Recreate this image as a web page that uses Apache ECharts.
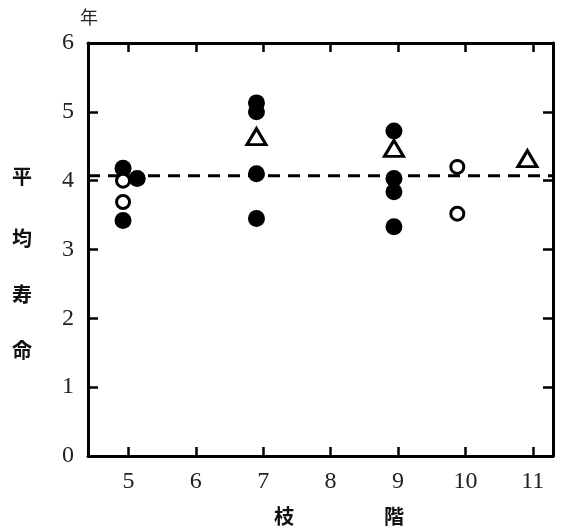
<!DOCTYPE html>
<html><head><meta charset="utf-8">
<script src="https://cdn.jsdelivr.net/npm/echarts@6/dist/echarts.min.js"></script>
<style>html,body{margin:0;padding:0;background:#fff}#c{width:564px;height:529px}</style>
</head><body><div id="c"></div>
<script>
const xTicks = [5, 6, 7, 8, 9, 10, 11];
const yTicks = [0, 1, 2, 3, 4, 5, 6];
const filledPoints = [[4.92,4.18],[5.13,4.03],[4.92,3.42],[6.9,5.13],[6.9,5.0],[6.9,4.10],[6.9,3.45],[8.94,4.72],[8.94,4.03],[8.94,3.84],[8.94,3.33]];
const openPoints = [[4.92,4.0],[4.92,3.69],[9.88,4.2],[9.88,3.52]];
const trianglePoints = [[6.9,4.64],[8.94,4.47],[10.92,4.32]];
const meanLine = [[4.4,4.07],[11.3,4.07]];
const yName = ['平','均','寿','命'];
const xName = ['枝','階'];

const chart = echarts.init(document.getElementById('c'));
const serif = '"Liberation Serif", "DejaVu Serif", serif';
const cjk = '"Noto Sans CJK JP", sans-serif';
const axisBase = {
  type: 'value', min: 4.4, max: 11.3,
  axisLine: {show: true, onZero: false, lineStyle: {color: '#000', width: 3}},
  splitLine: {show: false}
};
chart.setOption({
  animation: false,
  grid: {left: 88, right: 11, top: 43, bottom: 73},
  xAxis: [
    Object.assign({}, axisBase, {position: 'bottom',
      axisTick: {show: true, inside: true, length: 9, lineStyle: {color: '#000', width: 2.5}, customValues: xTicks},
      axisLabel: {show: true, customValues: xTicks, margin: 14, color: '#222', fontFamily: serif, fontSize: 24}}),
    Object.assign({}, axisBase, {position: 'top',
      axisTick: {show: true, inside: true, length: 9, lineStyle: {color: '#000', width: 2.5}, customValues: xTicks},
      axisLabel: {show: false}})
  ],
  yAxis: [
    {type: 'value', min: 0, max: 6, interval: 1, position: 'left',
      axisLine: {show: true, onZero: false, lineStyle: {color: '#000', width: 3}},
      axisTick: {show: true, inside: true, length: 10, lineStyle: {color: '#000', width: 2.5}},
      axisLabel: {margin: 14, color: '#222', fontFamily: serif, fontSize: 24, formatter: v => yTicks.includes(v) ? String(v) : ''},
      splitLine: {show: false}},
    {type: 'value', min: 0, max: 6, interval: 1, position: 'right',
      axisLine: {show: true, onZero: false, lineStyle: {color: '#000', width: 3}},
      axisTick: {show: true, inside: true, length: 10, lineStyle: {color: '#000', width: 2.5}},
      axisLabel: {show: false}, splitLine: {show: false}}
  ],
  graphic: [
    {type: 'text', left: 80, top: 8, style: {text: '年', font: '18px ' + cjk, fill: '#222'}}
  ].concat(yName.map((ch, i) => ({type: 'text', left: 12, top: [166, 228, 284, 340][i],
      style: {text: ch, font: 'bold 20px ' + cjk, fill: '#111'}})))
   .concat(xName.map((ch, i) => ({type: 'text', left: [274, 384][i], top: 506,
      style: {text: ch, font: 'bold 20px ' + cjk, fill: '#111'}}))),
  series: [
    {type: 'line', data: meanLine, symbol: 'none', z: 1,
      lineStyle: {color: '#000', width: 3, type: [12, 8]}},
    {type: 'scatter', data: filledPoints, symbol: 'circle', symbolSize: 17, z: 3,
      itemStyle: {color: '#000', opacity: 1}},
    {type: 'scatter', data: openPoints, symbol: 'circle', symbolSize: 13, z: 4,
      itemStyle: {color: '#fff', borderColor: '#000', borderWidth: 3, opacity: 1}},
    {type: 'scatter', data: trianglePoints, symbol: 'triangle', symbolSize: [19, 16], z: 4,
      itemStyle: {color: '#fff', borderColor: '#000', borderWidth: 3, opacity: 1}}
  ]
});
</script></body></html>
